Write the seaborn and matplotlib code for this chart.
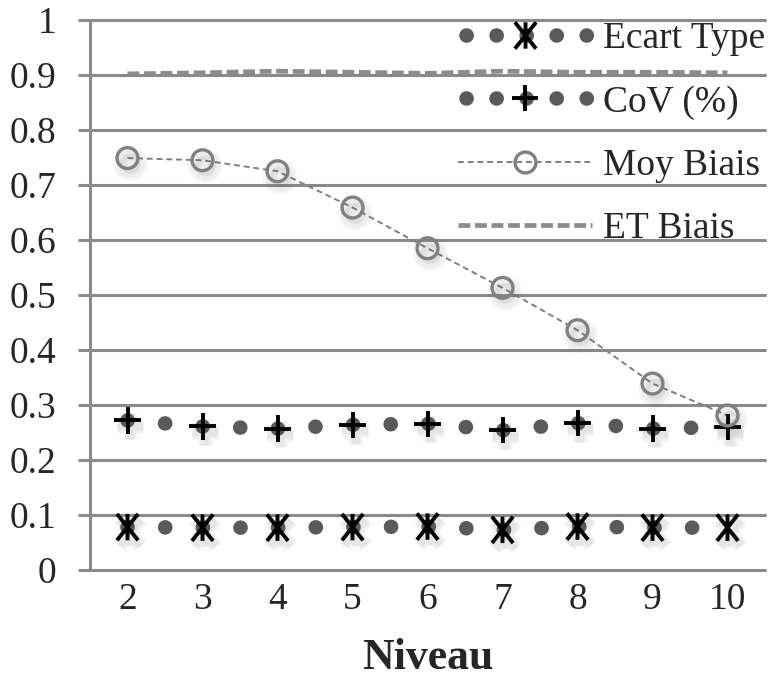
import numpy as np
import pandas as pd
import matplotlib
matplotlib.use("Agg")
import matplotlib.pyplot as plt
import matplotlib.patheffects as pe
from matplotlib.lines import Line2D
from matplotlib.path import Path
from matplotlib.legend_handler import HandlerTuple
import seaborn as sns

# Data
niveau = [2, 3, 4, 5, 6, 7, 8, 9, 10]
ecart_type = [0.078, 0.077, 0.077, 0.078, 0.079, 0.073, 0.079, 0.077, 0.077]
cov = [0.272, 0.261, 0.257, 0.264, 0.266, 0.254, 0.267, 0.257, 0.260]
moy_biais = [0.749, 0.745, 0.725, 0.659, 0.585, 0.513, 0.436, 0.339, 0.281]
et_biais = [0.902, 0.904, 0.907, 0.905, 0.903, 0.907, 0.905, 0.905, 0.904]
series_labels = ["Ecart Type", "CoV (%)", "Moy Biais", "ET Biais"]
y_ticks = [0, 0.1, 0.2, 0.3, 0.4, 0.5, 0.6, 0.7, 0.8, 0.9, 1]
y_tick_labels = ["0", "0.1", "0.2", "0.3", "0.4", "0.5", "0.6", "0.7", "0.8", "0.9", "1"]

df = pd.DataFrame({"Niveau": niveau, "ecart": ecart_type, "cov": cov,
                   "moy": moy_biais, "et": et_biais})

sns.set_theme(style="white")
plt.rcParams["font.family"] = ["Liberation Serif", "DejaVu Serif"]

fig = plt.figure(figsize=(7.76, 6.89), dpi=100)
ax = fig.add_axes([90 / 776, 1 - 570 / 689, 675 / 776, 550 / 689])

grid_col = "#8a8a8a"
off = (2, -4)
# soft drop shadow built from a few translucent, widening strokes
stroke_shadow = [pe.SimpleLineShadow(offset=off, shadow_color="#555555", alpha=0.05, linewidth=lw)
                 for lw in (11, 8, 5)] + [pe.Normal()]
ring_shadow = [pe.SimplePatchShadow(offset=off, shadow_rgbFace="#555555", alpha=0.10)] + \
              [pe.SimpleLineShadow(offset=off, shadow_color="#555555", alpha=0.05, linewidth=lw)
               for lw in (10, 6)] + [pe.Normal()]

# asterisk marker: X with a vertical bar
star = Path([(-0.8, -1), (0.8, 1), (-0.8, 1), (0.8, -1), (0, -1), (0, 1)],
            [Path.MOVETO, Path.LINETO, Path.MOVETO, Path.LINETO, Path.MOVETO, Path.LINETO])

dot_lw = 10.5
dot_style = (0, (0.01, 27.0 / dot_lw))


def draw(col, line_kw, marker_kw=None):
    n0 = len(ax.lines)
    sns.lineplot(data=df, x="Niveau", y=col, ax=ax, **line_kw)
    handle = [ax.lines[n0]]
    if marker_kw is not None:
        sns.lineplot(data=df, x="Niveau", y=col, ax=ax, linestyle="none", **marker_kw)
        handle.append(ax.lines[n0 + 1])
    return tuple(handle)


h_et = draw("et", dict(color="#8c8c8c", lw=3.4, linestyle=(0, (2.5, 1.0)), zorder=3))

h_ecart = draw("ecart",
               dict(color="#5a5a5a", lw=dot_lw, linestyle=dot_style,
                    dash_capstyle="round", zorder=4),
               dict(marker=star, markersize=19, markerfacecolor="none",
                    markeredgecolor="black", markeredgewidth=2.8, zorder=6,
                    path_effects=stroke_shadow))

h_cov = draw("cov",
             dict(color="#5a5a5a", lw=dot_lw, linestyle=dot_style,
                  dash_capstyle="round", zorder=4),
             dict(marker="+", markersize=19, markeredgecolor="black",
                  markeredgewidth=2.8, zorder=6, path_effects=stroke_shadow))

h_moy = draw("moy",
             dict(color="#808080", lw=1.4, linestyle=(0, (3, 2)), zorder=5),
             dict(marker="o", markersize=15, markerfacecolor="none",
                  markeredgecolor="#808080", markeredgewidth=2.4, zorder=6,
                  path_effects=ring_shadow))

ax.set_xlim(1.5, 10.5)
ax.set_ylim(0, 1)
ax.set_xticks(niveau)
ax.set_xticklabels([str(n) for n in niveau])
ax.set_yticks(y_ticks)
ax.set_yticklabels(y_tick_labels)

for y in y_ticks:
    ax.axhline(y, color=grid_col, lw=2.2, zorder=1, clip_on=False)

for side in ["top", "right", "bottom"]:
    ax.spines[side].set_visible(False)
ax.spines["left"].set_color(grid_col)
ax.spines["left"].set_linewidth(2.2)

ax.tick_params(axis="y", length=9, width=2.2, color=grid_col, pad=15,
               labelsize=27, left=True)
ax.tick_params(axis="x", length=0, pad=9, labelsize=27)
ax.set_ylabel("")
ax.set_xlabel("Niveau", fontsize=31.5, fontweight="bold", labelpad=15)

leg = ax.legend([h_ecart, h_cov, h_moy, h_et], series_labels,
                handler_map={tuple: HandlerTuple(ndivide=1)},
                loc="upper left", bbox_to_anchor=(458 / 776, 1 - 22 / 689),
                bbox_transform=fig.transFigure, frameon=False, fontsize=27,
                handlelength=3.57, handletextpad=0.3, labelspacing=0.76,
                borderpad=0, borderaxespad=0)

# legend keys: no shadows, tighter dot spacing in the short dotted samples
for ln in leg.findobj(Line2D):
    ln.set_path_effects([])
    if ln.get_linewidth() == dot_lw and ln.get_linestyle() not in ("None", "none", ""):
        ln.set_linestyle((1.51, (0.01, 2.05)))

fig.savefig("out.png", dpi=100)
